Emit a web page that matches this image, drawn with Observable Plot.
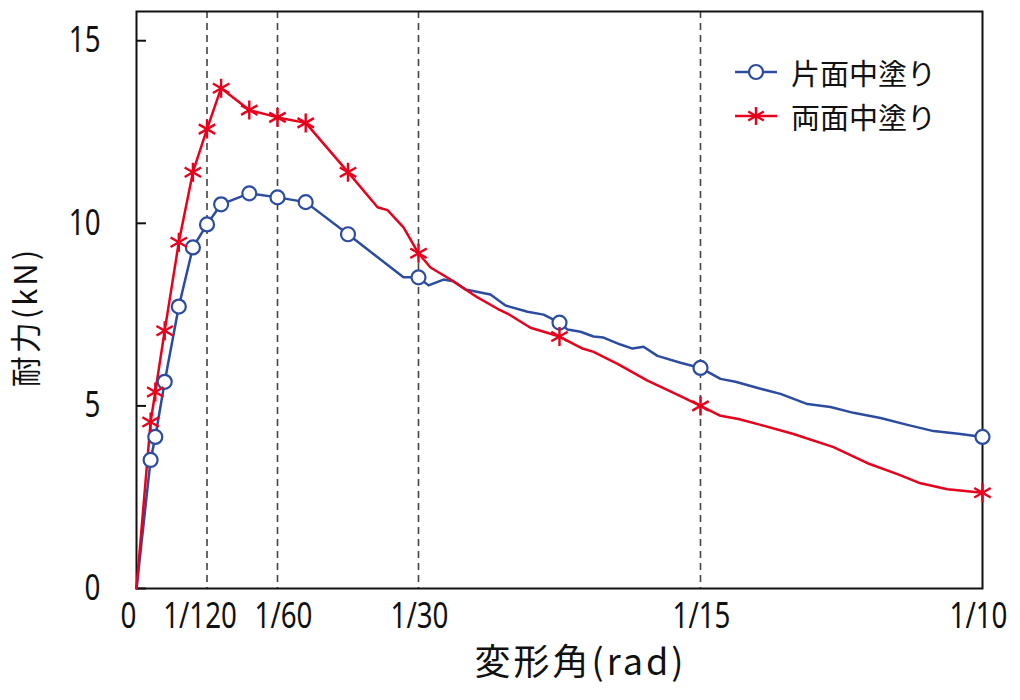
<!DOCTYPE html>
<html><head><meta charset="utf-8">
<script src="https://cdn.jsdelivr.net/npm/d3@7"></script>
<script src="https://cdn.jsdelivr.net/npm/@observablehq/plot@0.6"></script>
<style>
body{margin:0;background:#fff;}
#wrap{position:relative;width:1020px;height:700px;}
.lg{position:absolute;left:735px;height:40px;display:flex;align-items:center;font-family:"Noto Sans CJK JP",sans-serif;font-size:29px;color:#111;}
.lg svg{margin-right:14px;}
</style></head><body><div id="wrap"></div>
<script>
// ---- data ----
const xTicks = [0, 1/120, 1/60, 1/30, 1/15, 1/10];
const xTickLabels = ["0", "1/120", "1/60", "1/30", "1/15", "1/10"];
const guideX = [1/120, 1/60, 1/30, 1/15];
const yTicks = [0, 5, 10, 15];
const seriesNames = ["片面中塗り", "両面中塗り"];
const seriesColors = ["#2B4CA0", "#E8001C"];

// marker positions (rad)
const markX = [1/600, 1/450, 1/300, 1/200, 1/150, 1/120, 1/100, 1/75, 1/60, 1/50, 1/40, 1/30, 1/20, 1/15, 1/10];
const blueMarkY = [3.52, 4.15, 5.66, 7.72, 9.34, 9.97, 10.52, 10.82, 10.71, 10.58, 9.70, 8.52, 7.28, 6.04, 4.15];
const redMarkY  = [4.56, 5.38, 7.06, 9.48, 11.40, 12.58, 13.70, 13.10, 12.90, 12.75, 11.40, 9.18, 6.90, 5.00, 2.62];

// continuous curves
const blueX = [0, 1/600, 1/450, 1/300, 1/200, 1/150, 1/120, 1/100, 1/75, 1/60, 1/50, 1/40,
  0.03156, 0.03333, 0.03452, 0.03629, 0.03747, 0.03889, 0.04184, 0.04362, 0.04622, 0.04811, 0.05000,
  0.05095, 0.05248, 0.05402, 0.05520, 0.05721, 0.05863, 0.05993, 0.06158, 0.06430, 0.06667,
  0.06903, 0.07080, 0.07376, 0.07612, 0.07931, 0.08203, 0.08475, 0.08794, 0.09113, 0.09421, 0.09740, 0.10000];
const blueY = [0, 3.52, 4.15, 5.66, 7.72, 9.34, 9.97, 10.52, 10.82, 10.71, 10.58, 9.70,
  8.52, 8.52, 8.30, 8.46, 8.41, 8.19, 8.05, 7.75, 7.58, 7.50, 7.28,
  7.09, 7.03, 6.90, 6.87, 6.68, 6.57, 6.62, 6.37, 6.18, 6.04,
  5.74, 5.66, 5.47, 5.33, 5.05, 4.97, 4.81, 4.67, 4.48, 4.31, 4.23, 4.15];
const redX = [0, 1/600, 1/450, 1/300, 1/200, 1/150, 1/120, 1/100, 1/75, 1/60, 1/50, 1/40,
  0.02849, 0.02967, 0.03156, 0.03333, 0.03475, 0.03712, 0.04031, 0.04267, 0.04385, 0.04657, 0.05000,
  0.05272, 0.05402, 0.05686, 0.06040, 0.06430, 0.06667,
  0.06903, 0.07116, 0.07376, 0.07766, 0.08239, 0.08641, 0.08995, 0.09267, 0.09586, 0.10000];
const redY = [0, 4.56, 5.38, 7.06, 9.48, 11.40, 12.58, 13.70, 13.10, 12.90, 12.75, 11.40,
  10.44, 10.36, 9.89, 9.18, 8.79, 8.46, 7.97, 7.66, 7.53, 7.14, 6.90,
  6.57, 6.48, 6.15, 5.69, 5.27, 5.00,
  4.73, 4.64, 4.48, 4.23, 3.87, 3.43, 3.13, 2.88, 2.72, 2.62];

const xLabel = "変形角(rad)";
const yLabel = "耐力(kN)";

// ---- tables ----
const blueLine = blueX.map((x, i) => ({x, y: blueY[i]}));
const redLine = redX.map((x, i) => ({x, y: redY[i]}));
const blueMarks = markX.map((x, i) => ({x, y: blueMarkY[i]}));
const redMarks = markX.map((x, i) => ({x, y: redMarkY[i]}));

const numFont = "'Noto Sans',sans-serif";
const cjkFont = "'Noto Sans CJK JP',sans-serif";
const fmtX = d => xTickLabels[xTicks.indexOf(d)];
const xAxisPart = (ticks, dx) => Plot.axisX({ticks, tickSize: 0, tickPadding: 14, fontSize: 36, fill: "#111",
  tickFormat: fmtX, label: null, dx});

const chart = Plot.plot({
  width: 1020, height: 700,
  marginLeft: 136, marginRight: 38, marginTop: 11, marginBottom: 112,
  x: {domain: [0, 0.1], label: null},
  y: {domain: [0, 15.8], label: null},
  style: {background: "white", fontFamily: numFont, color: "#111"},
  marks: [
    Plot.ruleX(guideX, {stroke: "#444", strokeWidth: 1.6, strokeDasharray: "7,5"}),
    Plot.frame({stroke: "#111", strokeWidth: 2}),
    Plot.axisY({ticks: yTicks, tickSize: 10, dx: 10, text: null, stroke: "#111", strokeWidth: 2, label: null}),
    Plot.axisY({ticks: yTicks, tickSize: 0, tickPadding: 36, fontSize: 36, fill: "#111", label: null}),
    xAxisPart([xTicks[0]], -8),
    xAxisPart([xTicks[1]], -7),
    xAxisPart([xTicks[2]], 6),
    xAxisPart(xTicks.slice(3, 5), 1),
    xAxisPart([xTicks[5]], -4),
    Plot.text([xLabel], {frameAnchor: "bottom", dy: 86, dx: 21, fontSize: 36, fontFamily: cjkFont, fill: "#111"}),
    Plot.text([yLabel], {frameAnchor: "left", textAnchor: "middle", rotate: -90, dx: -109, dy: 17, fontSize: 31, fontFamily: cjkFont, fill: "#111"}),
    Plot.line(blueLine, {x: "x", y: "y", stroke: seriesColors[0], strokeWidth: 2.5}),
    Plot.line(redLine, {x: "x", y: "y", stroke: seriesColors[1], strokeWidth: 2.5}),
    Plot.dot(blueMarks, {x: "x", y: "y", r: 7, stroke: seriesColors[0], strokeWidth: 2.2, fill: "white"}),
    Plot.dot(redMarks, {x: "x", y: "y", r: 9, symbol: "asterisk", stroke: seriesColors[1], strokeWidth: 2.4})
  ]
});
const wrap = document.getElementById("wrap");
wrap.appendChild(chart);

// condense tick labels (narrow numeric face in reference)
chart.querySelectorAll('g[aria-label="x-axis tick label"] text, g[aria-label="y-axis tick label"] text').forEach(t => {
  const w = t.getComputedTextLength();
  t.setAttribute("textLength", (w * 0.77).toFixed(1));
  t.setAttribute("lengthAdjust", "spacingAndGlyphs");
});
// wider spacing in axis titles
chart.querySelectorAll("text").forEach(t => {
  if (t.textContent === xLabel || t.textContent === yLabel) t.style.letterSpacing = "3px";
});

// legend
const legendSymbols = [
  `<svg width="42" height="20"><line x1="0" y1="10" x2="42" y2="10" stroke="${seriesColors[0]}" stroke-width="2.5"/><circle cx="21" cy="10" r="7" fill="white" stroke="${seriesColors[0]}" stroke-width="2.2"/></svg>`,
  `<svg width="42" height="20"><line x1="0" y1="10" x2="42" y2="10" stroke="${seriesColors[1]}" stroke-width="2.5"/><g transform="translate(21,10)" stroke="${seriesColors[1]}" stroke-width="2.4"><line x1="0" y1="-9" x2="0" y2="9"/><line x1="-7.8" y1="-4.5" x2="7.8" y2="4.5"/><line x1="-7.8" y1="4.5" x2="7.8" y2="-4.5"/></g></svg>`
];
seriesNames.forEach((name, i) => {
  const d = document.createElement("div");
  d.className = "lg";
  d.style.top = (52 + i * 44) + "px";
  d.innerHTML = legendSymbols[i] + `<span>${name}</span>`;
  wrap.appendChild(d);
});
</script></body></html>
